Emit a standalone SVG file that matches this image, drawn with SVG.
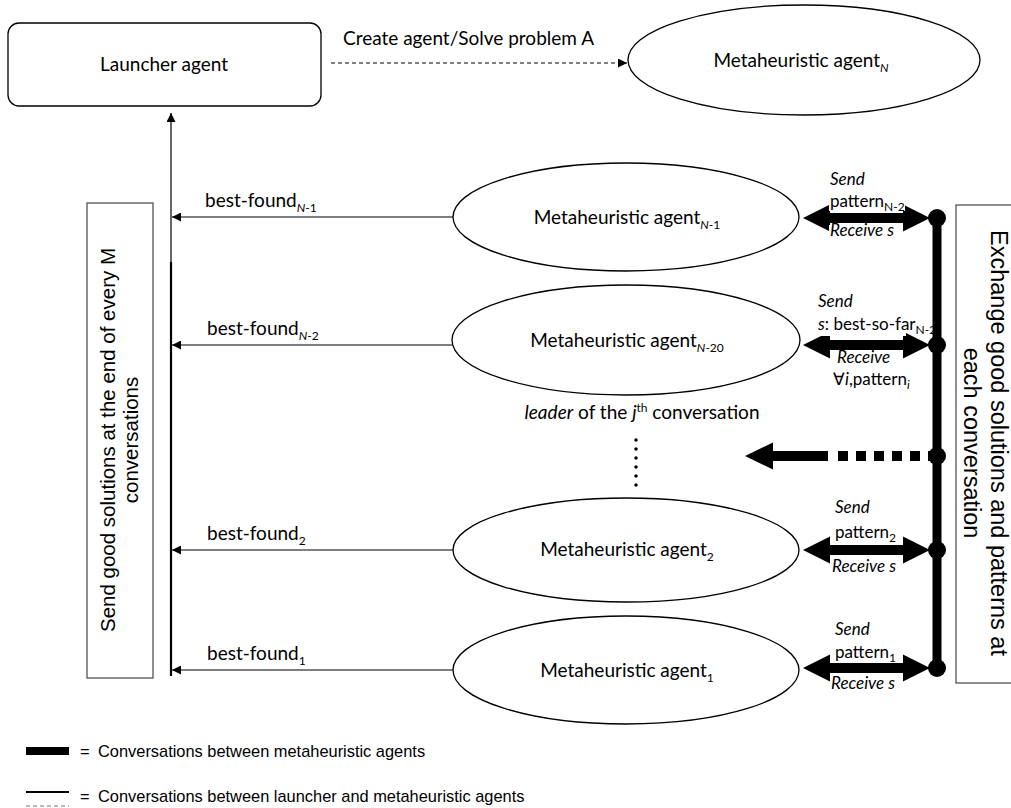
<svg xmlns="http://www.w3.org/2000/svg" width="1011" height="808" viewBox="0 0 1011 808">
<style>
.t{font-family:Lato,"Open Sans",sans-serif;font-size:19px;fill:#000}
.s{font-family:Lato,"Open Sans",sans-serif;font-size:17px;fill:#000}
.i{font-style:italic}
.sb{font-size:12px}
.a{font-family:"Liberation Sans",Arial,sans-serif;fill:#000}
.node{fill:#fff;stroke:#000;stroke-width:1.3}
.thin{stroke:#000;stroke-width:1.2;fill:none}
.thick{fill:#000}
.box{fill:#fff;stroke:#444;stroke-width:1.2}
.bg{fill:#fff}
</style>
<defs>
<marker id="ah" viewBox="0 0 10 10" refX="10" refY="5" markerWidth="9" markerHeight="9" markerUnits="userSpaceOnUse" orient="auto">
<path d="M0,0 L10,5 L0,10 z" fill="#000"/>
</marker>
</defs>

<g id="connectors">
<line class="thin" x1="331" y1="63" x2="627" y2="63" stroke-dasharray="4,3" marker-end="url(#ah)"/>
<line class="thin" x1="171" y1="263" x2="171" y2="113" marker-end="url(#ah)"/>
<line x1="171" y1="262" x2="171" y2="676" stroke="#000" stroke-width="2.2"/>
<line class="thin" x1="453" y1="217" x2="172" y2="217" marker-end="url(#ah)"/>
<line class="thin" x1="452" y1="345" x2="172" y2="345" marker-end="url(#ah)"/>
<line class="thin" x1="453" y1="550" x2="172" y2="550" marker-end="url(#ah)"/>
<line class="thin" x1="453" y1="670" x2="172" y2="670" marker-end="url(#ah)"/>
<line x1="937" y1="218" x2="937" y2="668" stroke="#000" stroke-width="9"/>
<polygon class="thick" points="803,218 830,204.5 830,213 903,213 903,204.5 930,218 903,231.5 903,223 830,223 830,231.5"/>
<polygon class="thick" points="803,345 830,331.5 830,340 903,340 903,331.5 930,345 903,358.5 903,350 830,350 830,358.5"/>
<polygon class="thick" points="803,550 830,536.5 830,545 903,545 903,536.5 930,550 903,563.5 903,555 830,555 830,563.5"/>
<polygon class="thick" points="803,668 830,654.5 830,663 903,663 903,654.5 930,668 903,681.5 903,673 830,673 830,681.5"/>
<polygon class="thick" points="745,456 773,442.5 773,451 828,451 828,461 773,461 773,469.5"/>
<line x1="838" y1="456" x2="930" y2="456" stroke="#000" stroke-width="10" stroke-dasharray="10,8"/>
<circle cx="937" cy="218" r="9"/>
<circle cx="937" cy="345" r="9"/>
<circle cx="937" cy="456" r="9"/>
<circle cx="937" cy="550" r="9"/>
<circle cx="937" cy="668" r="9"/>
<line x1="636" y1="440" x2="636" y2="486" stroke="#000" stroke-width="3.5" stroke-linecap="round" stroke-dasharray="0,9"/>
</g>

<g id="launcher">
<rect class="node" x="8" y="23" width="313" height="83" rx="11"/>
<text class="t" x="164" y="71" text-anchor="middle">Launcher agent</text>
</g>
<text class="t" x="343" y="45">Create agent/Solve problem A</text>

<g id="agentN">
<ellipse class="node" cx="804" cy="60" rx="176" ry="55"/>
<text class="t" x="801" y="67" text-anchor="middle">Metaheuristic agent<tspan class="sb i" dy="5">N</tspan></text>
</g>
<g id="agentN1">
<ellipse class="node" cx="626" cy="217" rx="173" ry="54"/>
<text class="t" x="627" y="224" text-anchor="middle">Metaheuristic agent<tspan class="sb" dy="5"><tspan class="i">N</tspan>-1</tspan></text>
</g>
<g id="agentN20">
<ellipse class="node" cx="626" cy="340" rx="174" ry="55" stroke-width="3"/>
<text class="t" x="627" y="347" text-anchor="middle">Metaheuristic agent<tspan class="sb" dy="5"><tspan class="i">N</tspan>-20</tspan></text>
<text class="t" x="642" y="419" text-anchor="middle"><tspan class="i">leader</tspan> of the <tspan class="i">j</tspan><tspan class="sb" dy="-7">th</tspan><tspan dy="7"> conversation</tspan></text>
</g>
<g id="agent2">
<ellipse class="node" cx="626" cy="550" rx="173" ry="52"/>
<text class="t" x="627" y="556" text-anchor="middle">Metaheuristic agent<tspan class="sb" dy="5">2</tspan></text>
</g>
<g id="agent1">
<ellipse class="node" cx="626" cy="670" rx="173" ry="54"/>
<text class="t" x="627" y="677" text-anchor="middle">Metaheuristic agent<tspan class="sb" dy="5">1</tspan></text>
</g>

<g id="labels-left">
<text class="t" x="205" y="207">best-found<tspan class="sb" dy="5"><tspan class="i">N</tspan>-1</tspan></text>
<text class="t" x="207" y="335">best-found<tspan class="sb" dy="5"><tspan class="i">N</tspan>-2</tspan></text>
<text class="t" x="207" y="540">best-found<tspan class="sb" dy="5">2</tspan></text>
<text class="t" x="207" y="660">best-found<tspan class="sb" dy="5">1</tspan></text>
</g>

<g id="labels-right">
<rect class="bg" x="829" y="193" width="76" height="18"/>
<rect class="bg" x="829" y="225" width="70" height="16"/>
<rect class="bg" x="817" y="317" width="89" height="19"/>
<rect class="bg" x="836" y="352" width="58" height="16"/>
<rect class="bg" x="834" y="525" width="58" height="18"/>
<rect class="bg" x="831" y="558" width="68" height="18"/>
<rect class="bg" x="834" y="645" width="58" height="17"/>
<rect class="bg" x="830" y="675" width="68" height="18"/>
<text class="s i" x="830" y="185">Send</text>
<text class="s" x="830" y="207">pattern<tspan class="sb" dy="4">N-2</tspan></text>
<text class="s i" x="830" y="236">Receive s</text>
<text class="s i" x="818" y="307">Send</text>
<text class="s" x="818" y="330"><tspan class="i">s</tspan>: best-so-far<tspan class="sb" dy="4">N-2</tspan></text>
<text class="s i" x="837" y="363">Receive</text>
<text class="s" x="833" y="385">∀<tspan class="i">i</tspan>,pattern<tspan class="sb i" dy="4">i</tspan></text>
<text class="s i" x="835" y="513">Send</text>
<text class="s" x="835" y="538">pattern<tspan class="sb" dy="4">2</tspan></text>
<text class="s i" x="832" y="572">Receive s</text>
<text class="s i" x="835" y="635">Send</text>
<text class="s" x="835" y="658">pattern<tspan class="sb" dy="4">1</tspan></text>
<text class="s i" x="831" y="689">Receive s</text>
</g>

<g id="left-note">
<rect class="box" x="87" y="203" width="66" height="475"/>
<g transform="translate(115,440) rotate(-90)">
<text class="a" font-size="20.5" x="0" y="0" text-anchor="middle">Send good solutions at the end of every M</text>
<text class="a" font-size="20.5" x="0" y="23" text-anchor="middle">conversations</text>
</g>
</g>

<g id="right-note">
<rect class="box" x="956" y="205" width="70" height="478"/>
<g transform="translate(983,443) rotate(90)">
<text class="a" font-size="23.5" x="0" y="-8" text-anchor="middle">Exchange good solutions and patterns at</text>
<text class="a" font-size="23.5" x="0" y="19" text-anchor="middle">each conversation</text>
</g>
</g>

<g id="legend">
<rect x="26" y="747" width="43" height="8" fill="#000"/>
<text class="a" font-size="16.4" x="80" y="757">=</text>
<text class="a" font-size="16.4" x="98" y="757">Conversations between metaheuristic agents</text>
<line x1="26" y1="792" x2="69" y2="792" stroke="#000" stroke-width="2"/>
<line x1="26" y1="806" x2="69" y2="806" stroke="#777" stroke-width="1.2" stroke-dasharray="4,3"/>
<text class="a" font-size="16.4" x="80" y="802">=</text>
<text class="a" font-size="16.4" x="98" y="802">Conversations between launcher and metaheuristic agents</text>
</g>
</svg>
